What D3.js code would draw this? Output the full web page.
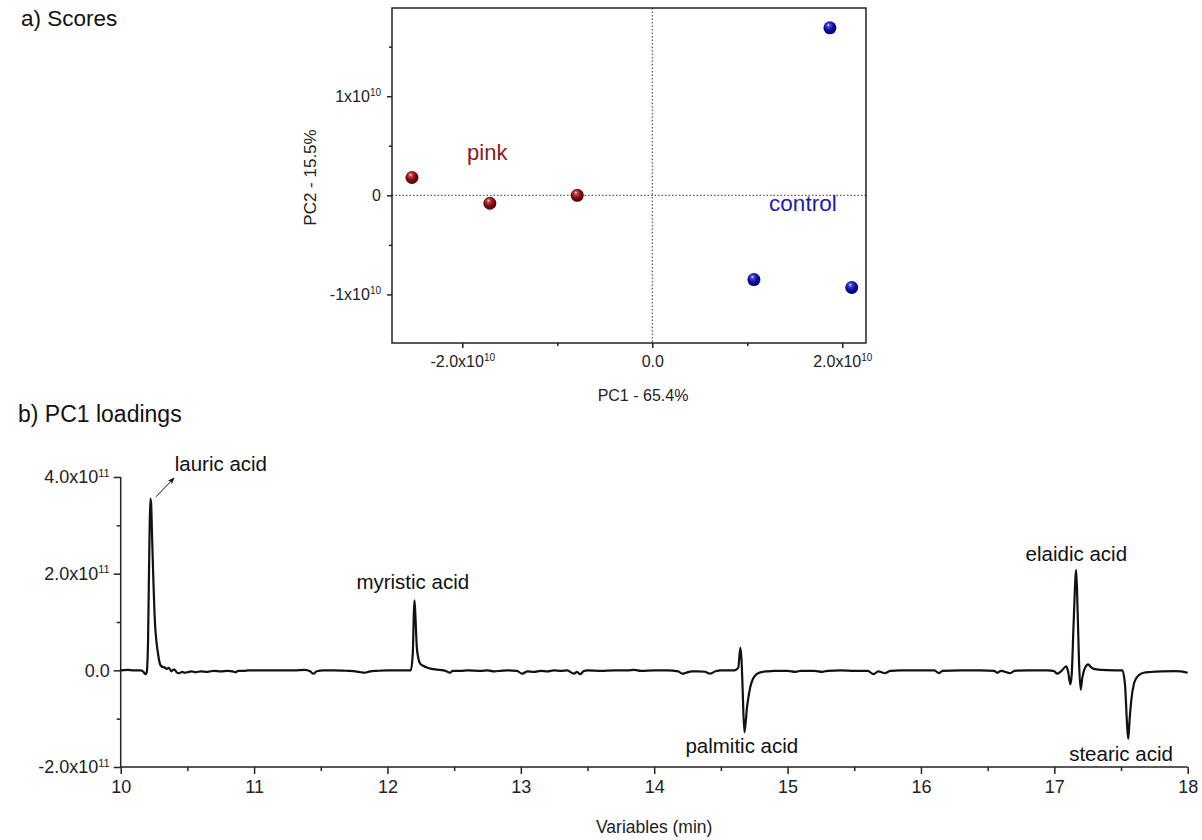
<!DOCTYPE html>
<html>
<head>
<meta charset="utf-8">
<script src="https://cdn.jsdelivr.net/npm/d3@7"></script>
<style>
  body { margin: 0; background: #fff; }
  svg { font-family: 'Liberation Sans', Arial, sans-serif; }
  .domain { display: none; }
  .tick line { stroke: #222; stroke-width: 1.5; }
  .tick text { fill: #222; font-size: 16px; }
  .big .tick text { font-size: 18px; }
</style>
</head>
<body>
<div id="chart"></div>
<script>
const WIDTH = 1202;
const HEIGHT = 840;

// a) scores
const pinkScores = [[-2.53e10, 0.18e10], [-1.71e10, -0.08e10], [-0.79e10, 0.0]];
const controlScores = [[1.87e10, 1.69e10], [1.07e10, -0.85e10], [2.10e10, -0.93e10]];
const scoreXTicks = [-2e10, 0, 2e10];
const scoreXLabels = [['-2.0x10', '10'], ['0.0', ''], ['2.0x10', '10']];
const scoreXMinor = [-1e10, 1e10];
const scoreYTicks = [-1e10, 0, 1e10];
const scoreYLabels = [['-1x10', '10'], ['0', ''], ['1x10', '10']];
const scoreYMinor = [-0.5e10, 0.5e10, 1.5e10];

// b) PC1 loadings, time (min) and loading (x1e11)
const loadTime = [10.00, 10.05, 10.10, 10.15, 10.17, 10.185, 10.195, 10.205, 10.215, 10.222, 10.228, 10.235, 10.245, 10.257, 10.267, 10.277, 10.29, 10.30, 10.315, 10.33, 10.345, 10.36, 10.38, 10.40, 10.42, 10.44, 10.46, 10.48, 10.50, 10.53, 10.56, 10.60, 10.65, 10.70, 10.75, 10.80, 10.84, 10.86, 10.88, 10.92, 10.96, 11.0, 11.1, 11.2, 11.3, 11.38, 11.42, 11.445, 11.47, 11.52, 11.6, 11.7, 11.76, 11.80, 11.83, 11.87, 11.92, 12.0, 12.1, 12.175, 12.19, 12.198, 12.203, 12.21, 12.22, 12.232, 12.245, 12.27, 12.295, 12.33, 12.37, 12.42, 12.45, 12.47, 12.49, 12.55, 12.6, 12.7, 12.75, 12.8, 12.85, 12.9, 12.97, 13.01, 13.05, 13.1, 13.15, 13.2, 13.25, 13.3, 13.35, 13.38, 13.40, 13.42, 13.445, 13.47, 13.5, 13.6, 13.7, 13.8, 13.85, 13.9, 14.0, 14.1, 14.18, 14.21, 14.24, 14.28, 14.33, 14.38, 14.42, 14.46, 14.5, 14.6, 14.63, 14.646, 14.655, 14.662, 14.676, 14.685, 14.696, 14.71, 14.72, 14.74, 14.76, 14.78, 14.81, 14.85, 14.9, 15.0, 15.06, 15.1, 15.2, 15.26, 15.3, 15.4, 15.5, 15.6, 15.645, 15.68, 15.73, 15.77, 15.85, 16.0, 16.1, 16.135, 16.16, 16.3, 16.45, 16.55, 16.57, 16.6, 16.67, 16.7, 16.8, 16.95, 17.00, 17.02, 17.05, 17.09, 17.105, 17.12, 17.13, 17.145, 17.164, 17.175, 17.185, 17.197, 17.21, 17.23, 17.254, 17.27, 17.296, 17.35, 17.45, 17.51, 17.53, 17.545, 17.554, 17.565, 17.577, 17.597, 17.615, 17.634, 17.67, 17.72, 17.8, 17.9, 17.95, 18.0];
const loadValue = [0.00, 0.01, 0.00, 0.00, -0.03, -0.08, -0.04, 0.6, 2.6, 3.55, 3.45, 2.8, 1.87, 0.98, 0.62, 0.40, 0.18, 0.10, 0.07, 0.06, 0.03, 0.05, -0.02, 0.02, -0.04, -0.06, -0.03, -0.05, -0.04, -0.02, -0.04, -0.02, -0.03, -0.01, -0.02, -0.01, -0.02, -0.04, -0.01, -0.01, 0.00, 0.00, 0.00, 0.00, 0.00, 0.01, -0.02, -0.07, -0.02, 0.00, 0.00, -0.01, -0.02, -0.04, -0.05, -0.02, -0.01, 0.00, 0.00, 0.00, 0.35, 1.2, 1.45, 1.1, 0.48, 0.25, 0.14, 0.09, 0.06, 0.03, 0.015, 0.00, -0.03, -0.05, -0.01, -0.01, 0.00, -0.01, 0.00, -0.02, -0.01, 0.00, -0.01, -0.07, -0.02, -0.03, -0.01, -0.02, 0.00, -0.01, 0.00, -0.05, -0.07, -0.03, -0.08, -0.02, 0.00, -0.01, 0.00, 0.00, 0.01, -0.01, 0.00, 0.00, -0.02, -0.07, -0.05, -0.02, -0.02, -0.03, -0.07, -0.02, 0.00, 0.00, 0.05, 0.47, 0.2, -0.3, -1.28, -1.1, -0.76, -0.5, -0.35, -0.18, -0.10, -0.06, -0.035, -0.02, -0.01, -0.01, -0.03, -0.01, -0.01, -0.03, -0.01, 0.00, -0.01, -0.01, -0.08, -0.02, -0.06, -0.01, 0.00, 0.00, 0.00, -0.06, -0.01, 0.00, 0.00, -0.01, -0.05, -0.01, -0.06, -0.01, 0.00, 0.00, -0.02, -0.07, -0.02, 0.08, -0.05, -0.29, -0.1, 1.0, 2.08, 1.2, 0.2, -0.40, -0.15, 0.05, 0.125, 0.08, 0.03, 0.01, 0.00, 0.00, -0.3, -1.1, -1.42, -1.0, -0.62, -0.28, -0.16, -0.10, -0.05, -0.035, -0.02, -0.015, -0.02, -0.05];
const loadXTicks = [10, 11, 12, 13, 14, 15, 16, 17, 18];
const loadXMinor = [10.5, 11.5, 12.5, 13.5, 14.5, 15.5, 16.5, 17.5];
const loadYTicks = [-2e11, 0, 2e11, 4e11];
const loadYLabels = [['-2.0x10', '11'], ['0.0', ''], ['2.0x10', '11'], ['4.0x10', '11']];
const loadYMinor = [-1e11, 1e11, 3e11];

// peak names, anchored at (time, loading x1e11)
const peakNames = ['lauric acid', 'myristic acid', 'palmitic acid', 'elaidic acid', 'stearic acid'];
const peakAnchor = [[10.405, 4.13, 'start'], [12.19, 1.68, 'middle'], [14.657, -1.70, 'middle'], [17.165, 2.26, 'middle'], [17.50, -1.87, 'middle']];

const svg = d3.select('#chart').append('svg')
  .attr('width', WIDTH)
  .attr('height', HEIGHT);

const defs = svg.append('defs');
function ball(id, light, mid, dark) {
  const g = defs.append('radialGradient').attr('id', id)
    .attr('cx', '45%').attr('cy', '40%').attr('r', '60%')
    .attr('fx', '38%').attr('fy', '28%');
  g.append('stop').attr('offset', '0%').attr('stop-color', '#fff');
  g.append('stop').attr('offset', '18%').attr('stop-color', light);
  g.append('stop').attr('offset', '55%').attr('stop-color', mid);
  g.append('stop').attr('offset', '100%').attr('stop-color', dark);
}
ball('redBall', '#c05050', '#8a1010', '#4a0000');
ball('blueBall', '#5050e0', '#1010b0', '#00005a');

defs.append('marker').attr('id', 'arrow')
  .attr('viewBox', '0 0 10 10').attr('refX', 9).attr('refY', 5)
  .attr('markerWidth', 7).attr('markerHeight', 7).attr('orient', 'auto')
  .append('path').attr('d', 'M0,1 L10,5 L0,9 L3,5 Z').attr('fill', '#111');

function supLabels(sel, labels, values, supSize) {
  sel.selectAll('.tick text').each(function(d) {
    const i = values.indexOf(d);
    const t = d3.select(this).text('');
    t.append('tspan').text(labels[i][0]);
    if (labels[i][1]) {
      t.append('tspan').attr('dy', '-0.6em').attr('font-size', supSize).text(labels[i][1]);
    }
  });
}

// ---- a) Scores ----
const xS = d3.scaleLinear().domain([-2.74e10, 2.25e10]).range([392, 866]);
const yS = d3.scaleLinear().domain([-1.49e10, 1.89e10]).range([343, 8]);

svg.append('text').attr('x', 21).attr('y', 26).attr('font-size', '22.5px').attr('fill', '#111').text('a) Scores');

const gS = svg.append('g');
gS.append('line').attr('x1', xS(0)).attr('x2', xS(0)).attr('y1', yS.range()[1]).attr('y2', yS.range()[0])
  .attr('stroke', '#333').attr('stroke-dasharray', '1.5,2');
gS.append('line').attr('x1', xS.range()[0]).attr('x2', xS.range()[1]).attr('y1', yS(0)).attr('y2', yS(0))
  .attr('stroke', '#333').attr('stroke-dasharray', '1.5,2');

gS.append('g').attr('transform', `translate(0,${yS.range()[0]})`)
  .call(d3.axisBottom(xS).tickValues(scoreXTicks).tickSize(5).tickPadding(8))
  .call(g => supLabels(g, scoreXLabels, scoreXTicks, '10px'));
gS.append('g').attr('transform', `translate(0,${yS.range()[0]})`)
  .call(d3.axisBottom(xS).tickValues(scoreXMinor).tickSize(3).tickFormat(''));
gS.append('g').attr('transform', `translate(${xS.range()[0]},0)`)
  .call(d3.axisLeft(yS).tickValues(scoreYTicks).tickSize(5).tickPadding(6))
  .call(g => supLabels(g, scoreYLabels, scoreYTicks, '10px'));
gS.append('g').attr('transform', `translate(${xS.range()[0]},0)`)
  .call(d3.axisLeft(yS).tickValues(scoreYMinor).tickSize(3).tickFormat(''));

gS.append('rect').attr('x', xS.range()[0]).attr('y', yS.range()[1])
  .attr('width', xS.range()[1] - xS.range()[0]).attr('height', yS.range()[0] - yS.range()[1])
  .attr('fill', 'none').attr('stroke', '#222').attr('stroke-width', 1.5);

gS.selectAll('.pink').data(pinkScores).join('circle').attr('class', 'pink')
  .attr('cx', d => xS(d[0])).attr('cy', d => yS(d[1])).attr('r', 6.5).attr('fill', 'url(#redBall)');
gS.selectAll('.control').data(controlScores).join('circle').attr('class', 'control')
  .attr('cx', d => xS(d[0])).attr('cy', d => yS(d[1])).attr('r', 6.5).attr('fill', 'url(#blueBall)');

gS.append('text').attr('x', xS(-1.95e10)).attr('y', yS(0.36e10)).attr('font-size', '22px')
  .attr('fill', '#8b1a1a').text('pink');
gS.append('text').attr('x', xS(1.23e10)).attr('y', yS(-0.16e10)).attr('font-size', '22.5px')
  .attr('fill', '#1c1cb0').text('control');

svg.append('text').attr('x', 643).attr('y', 401).attr('text-anchor', 'middle')
  .attr('font-size', '16px').attr('fill', '#222').text('PC1 - 65.4%');
svg.append('text').attr('transform', `translate(316,${(yS.range()[0] + yS.range()[1]) / 2 + 2}) rotate(-90)`)
  .attr('text-anchor', 'middle').attr('font-size', '17px').attr('fill', '#222').text('PC2 - 15.5%');

// ---- b) PC1 loadings ----
const xL = d3.scaleLinear().domain([10, 18]).range([120.7, 1187.7]);
const yL = d3.scaleLinear().domain([-2e11, 4e11]).range([767, 477]);

svg.append('text').attr('x', 18).attr('y', 422).attr('font-size', '23px').attr('fill', '#111').text('b) PC1 loadings');

const gL = svg.append('g').attr('class', 'big');
gL.append('g').attr('transform', `translate(0,${yL.range()[0]})`)
  .call(d3.axisBottom(xL).tickValues(loadXTicks).tickSize(7).tickPadding(6).tickFormat(d3.format('d')));
gL.append('g').attr('transform', `translate(0,${yL.range()[0]})`)
  .call(d3.axisBottom(xL).tickValues(loadXMinor).tickSize(4).tickFormat(''));
gL.append('g').attr('transform', `translate(${xL.range()[0]},0)`)
  .call(d3.axisLeft(yL).tickValues(loadYTicks).tickSize(7).tickPadding(4))
  .call(g => supLabels(g, loadYLabels, loadYTicks, '11px'));
gL.append('g').attr('transform', `translate(${xL.range()[0]},0)`)
  .call(d3.axisLeft(yL).tickValues(loadYMinor).tickSize(4).tickFormat(''));

gL.append('line').attr('x1', xL.range()[0]).attr('x2', xL.range()[1])
  .attr('y1', yL.range()[0]).attr('y2', yL.range()[0]).attr('stroke', '#222').attr('stroke-width', 1.5);
gL.append('line').attr('x1', xL.range()[0]).attr('x2', xL.range()[0])
  .attr('y1', yL.range()[0]).attr('y2', yL.range()[1]).attr('stroke', '#222').attr('stroke-width', 1.5);

const trace = d3.line()
  .x((d, i) => xL(loadTime[i]))
  .y(d => yL(d * 1e11))
  .curve(d3.curveMonotoneX);
gL.append('path').datum(loadValue).attr('d', trace)
  .attr('fill', 'none').attr('stroke', '#111').attr('stroke-width', 2.2).attr('stroke-linejoin', 'round');

gL.selectAll('.peak').data(peakNames).join('text').attr('class', 'peak')
  .attr('x', (d, i) => xL(peakAnchor[i][0])).attr('y', (d, i) => yL(peakAnchor[i][1] * 1e11))
  .attr('text-anchor', (d, i) => peakAnchor[i][2])
  .attr('font-size', '20.5px').attr('fill', '#111').text(d => d);

gL.append('line')
  .attr('x1', xL(10.265)).attr('y1', yL(3.59e11))
  .attr('x2', xL(10.40)).attr('y2', yL(3.98e11))
  .attr('stroke', '#111').attr('stroke-width', 1).attr('marker-end', 'url(#arrow)');

svg.append('text').attr('x', (xL.range()[0] + xL.range()[1]) / 2).attr('y', 833)
  .attr('text-anchor', 'middle').attr('font-size', '17.5px').attr('fill', '#222').text('Variables (min)');
</script>
</body>
</html>
